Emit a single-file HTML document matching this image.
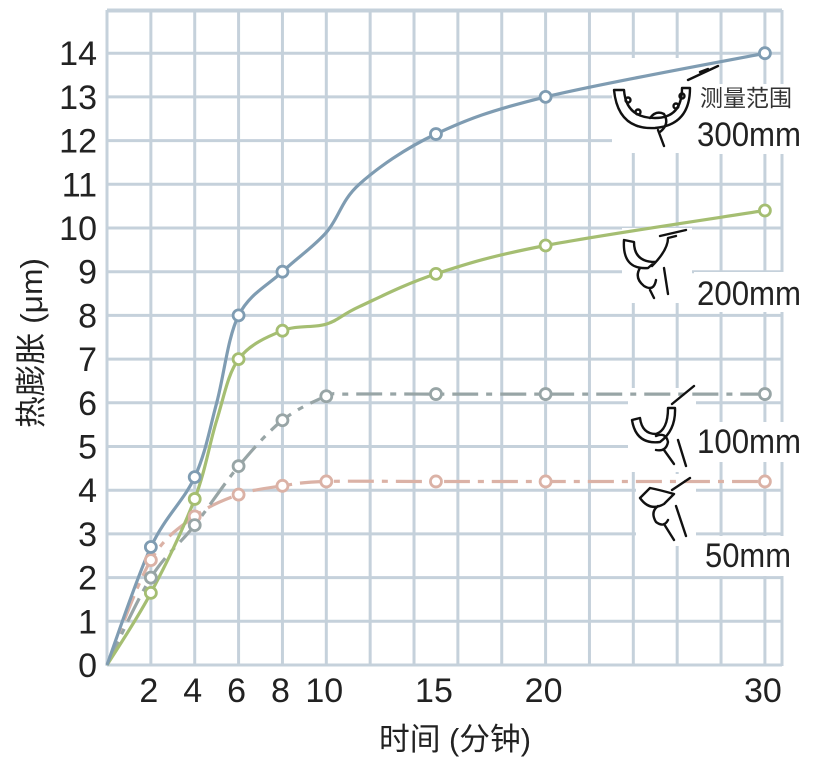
<!DOCTYPE html>
<html><head><meta charset="utf-8"><style>
html,body{margin:0;padding:0;background:#fff;}
svg{display:block;}
text{font-family:"Liberation Sans","Noto Sans CJK SC",sans-serif;fill:#222;}
</style></head><body>
<svg id="s" width="826" height="759" viewBox="0 0 826 759" xmlns="http://www.w3.org/2000/svg">
<g id="grid" stroke="#c5d1db" stroke-width="3" fill="none"></g>
<g id="knock" fill="#fff"></g>
<g id="series" fill="none" stroke-width="3.2"></g>
<g id="marks" fill="#fff" stroke-width="2.8"></g>
<g id="icons" fill="none" stroke="#111" stroke-width="2.4" stroke-linecap="round" stroke-linejoin="round">
 <path d="M614 90 Q618 130 655 128 Q690 125 690 88 L682 88 Q682 118 655 118 Q626 118 624 90 Z"/>
 <circle cx="628" cy="100" r="2.5"/><circle cx="638" cy="112" r="2.5"/><circle cx="676" cy="106" r="2.5"/><circle cx="682" cy="96" r="2.5"/>
 <path d="M688 80 L718 66 M700 72 l8 -3"/>
 <path d="M650 118 q6 -8 14 -4 q6 10 -4 18 M658 130 l6 16"/>
 <path d="M624 240 Q622 270 648 268 L655 262 Q634 262 634 242 Z M652 266 Q668 250 668 238 L676 236 M660 236 L686 230"/>
 <path d="M640 268 q-6 10 4 18 q10 6 12 -6 M650 290 l4 8 M664 268 l4 26"/>
 <path d="M632 420 Q636 445 660 442 Q676 430 675 408 L668 408 Q668 430 656 434 Q642 434 640 418 Z M672 404 l22 -18"/>
 <path d="M656 436 q10 -4 12 6 q-2 10 -12 8 M664 450 l10 14 M678 440 l8 26"/>
 <path d="M640 498 Q650 512 664 504 L674 494 Q660 490 650 488 Z M672 490 l18 -12"/>
 <path d="M658 506 q-8 6 -2 16 q8 6 12 -2 M664 524 l10 16 M676 506 l10 30"/>
</g>
<g id="labels"></g>
<text x="700" y="106" font-size="23" style="fill:#333">测量范围</text>
<text x="697" y="146" font-size="34" textLength="104" lengthAdjust="spacingAndGlyphs">300mm</text>
<text x="697" y="305" font-size="34" textLength="104" lengthAdjust="spacingAndGlyphs">200mm</text>
<text x="697" y="453" font-size="34" textLength="104" lengthAdjust="spacingAndGlyphs">100mm</text>
<text x="705" y="567" font-size="34" textLength="86" lengthAdjust="spacingAndGlyphs">50mm</text>
<text x="455" y="750" font-size="31" text-anchor="middle" textLength="152" lengthAdjust="spacingAndGlyphs">时间 (分钟)</text>
<text transform="translate(42,343) rotate(-90)" font-size="31" text-anchor="middle" textLength="170" lengthAdjust="spacingAndGlyphs">热膨胀 (μm)</text>
</svg>
<script>
var NS="http://www.w3.org/2000/svg";
function X(t){return 107+21.93*t;}
function Y(v){return 665-43.7*v;}
function el(p,n,a,txt){var e=document.createElementNS(NS,n);for(var k in a)e.setAttribute(k,a[k]);if(txt!=null)e.textContent=txt;document.getElementById(p).appendChild(e);return e;}
for(var t=0;t<=30;t+=2){el("grid","line",{x1:X(t),y1:10,x2:X(t),y2:666});}
el("grid","line",{x1:782,y1:10,x2:782,y2:666});
for(var v=0;v<=15;v++){var y=Y(v); if(y<10)y=10; el("grid","line",{x1:107,y1:y,x2:782,y2:y});}
el("grid","line",{x1:107,y1:11,x2:782,y2:11});
[[612,58,90,95],[698,84,104,70],[622,228,70,75],[694,272,110,40],[628,388,68,84],[694,422,110,40],[636,474,60,72],[700,536,96,40]].forEach(function(r){el("knock","rect",{x:r[0],y:r[1],width:r[2],height:r[3]});});
for(var v=0;v<=14;v++){el("labels","text",{x:97,y:Y(v)+12,"font-size":34,"text-anchor":"end"},String(v));}
[2,4,6,8,10,15,20,30].forEach(function(t){el("labels","text",{x:X(t)-2,y:702,"font-size":34,"text-anchor":"middle"},String(t));});
function cr(pts){var d="M"+pts[0][0]+" "+pts[0][1];for(var i=0;i<pts.length-1;i++){var p0=pts[i-1]||pts[i],p1=pts[i],p2=pts[i+1],p3=pts[i+2]||p2;var c1=[p1[0]+(p2[0]-p0[0])/6,p1[1]+(p2[1]-p0[1])/6],c2=[p2[0]-(p3[0]-p1[0])/6,p2[1]-(p3[1]-p1[1])/6];d+=" C"+c1+" "+c2+" "+p2;}return d;}
var S=[
 {c:"#7f9cb2",d:null,p:[[0,0],[2,2.7],[4,4.3],[5,6],[6,8],[8,9],[10,9.9],[11.5,11],[15,12.15],[20,13],[30,14]],m:[2,4,6,8,15,20,30]},
 {c:"#a5be72",d:null,p:[[0,0],[2,1.65],[4,3.8],[5,5.6],[6,7],[8,7.65],[10,7.8],[11.5,8.2],[15,8.95],[20,9.6],[30,10.4]],m:[2,4,6,8,15,20,30]},
 {c:"#98a5a6",d:"26 8 6 8",p:[[0,0],[2,2],[4,3.2],[6,4.55],[8,5.6],[10,6.15],[11,6.2],[15,6.2],[20,6.2],[30,6.2]],m:[2,4,6,8,10,15,20,30]},
 {c:"#dbb2a6",d:"26 8 6 8",p:[[0,0],[2,2.4],[4,3.4],[6,3.9],[8,4.1],[10,4.2],[15,4.2],[20,4.2],[30,4.2]],m:[2,4,6,8,10,15,20,30]}
];
S.slice().reverse().forEach(function(s){
 var pts=s.p.map(function(q){return [X(q[0]).toFixed(1)*1,Y(q[1]).toFixed(1)*1];});
 var a={d:cr(pts),stroke:s.c};if(s.d)a["stroke-dasharray"]=s.d;el("series","path",a);
 s.p.forEach(function(q){if(s.m.indexOf(q[0])>=0)el("marks","circle",{cx:X(q[0]),cy:Y(q[1]),r:5.5,stroke:s.c});});
});
</script>
</body></html>
